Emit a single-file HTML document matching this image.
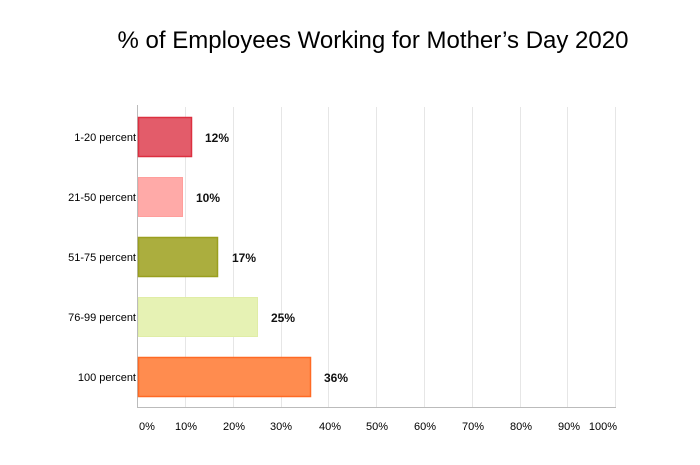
<!DOCTYPE html>
<html><head><style>
body{margin:0;background:#fff;}
svg text{font-family:"Liberation Sans",sans-serif;}
</style></head><body>
<svg width="700" height="460" xmlns="http://www.w3.org/2000/svg">
<rect width="700" height="460" fill="#fff"/>
<text x="373" y="48" font-size="24" text-anchor="middle" fill="#000">% of Employees Working for Mother’s Day 2020</text>
<g stroke="#e6e6e6" stroke-width="1">
<line x1="185.5" y1="107" x2="185.5" y2="407"/>
<line x1="233.5" y1="107" x2="233.5" y2="407"/>
<line x1="281.5" y1="107" x2="281.5" y2="407"/>
<line x1="328.5" y1="107" x2="328.5" y2="407"/>
<line x1="376.5" y1="107" x2="376.5" y2="407"/>
<line x1="424.5" y1="107" x2="424.5" y2="407"/>
<line x1="472.5" y1="107" x2="472.5" y2="407"/>
<line x1="520.5" y1="107" x2="520.5" y2="407"/>
<line x1="567.5" y1="107" x2="567.5" y2="407"/>
<line x1="615.5" y1="107" x2="615.5" y2="407"/>
</g>
<line x1="137.5" y1="407.5" x2="616" y2="407.5" stroke="#bbb"/>
<line x1="137.5" y1="105" x2="137.5" y2="408" stroke="#bbb"/>
<rect x="138.5" y="117.5" width="53" height="39" fill="#e35c6a" stroke="#dc3040" stroke-width="1.5"/>
<rect x="138.5" y="177.5" width="44" height="39" fill="#ffaaa8" stroke="#ff9e9c" stroke-width="1"/>
<rect x="138.5" y="237.5" width="79" height="39" fill="#abae3e" stroke="#9a9f1f" stroke-width="1.5"/>
<rect x="138.5" y="297.5" width="119" height="39" fill="#e6f2b4" stroke="#e0eda6" stroke-width="1"/>
<rect x="138.5" y="357.5" width="172" height="39" fill="#ff8c4f" stroke="#ff6a24" stroke-width="1.5"/>
<g font-size="11" fill="#000" text-anchor="end">
<text x="136" y="141">1-20 percent</text>
<text x="136" y="201">21-50 percent</text>
<text x="136" y="261">51-75 percent</text>
<text x="136" y="321">76-99 percent</text>
<text x="136" y="381">100 percent</text>
</g>
<g font-size="12" font-weight="bold" fill="#111">
<text x="205" y="142">12%</text>
<text x="196" y="202">10%</text>
<text x="232" y="262">17%</text>
<text x="271" y="322">25%</text>
<text x="324" y="382">36%</text>
</g>
<g font-size="11" fill="#000" text-anchor="middle">
<text x="147" y="430">0%</text>
<text x="186" y="430">10%</text>
<text x="234" y="430">20%</text>
<text x="281" y="430">30%</text>
<text x="330" y="430">40%</text>
<text x="377" y="430">50%</text>
<text x="425" y="430">60%</text>
<text x="473" y="430">70%</text>
<text x="521" y="430">80%</text>
<text x="569" y="430">90%</text>
<text x="603" y="430">100%</text>
</g>
</svg>
</body></html>
